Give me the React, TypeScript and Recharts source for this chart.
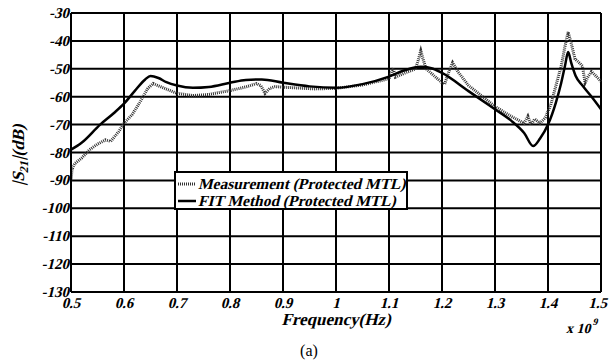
import { LineChart, Line, XAxis, YAxis, CartesianGrid, Customized } from "recharts";

// FIT method (solid)
const fitFreq = [
  0.5, 0.52, 0.555, 0.58, 0.6, 0.62, 0.64, 0.65, 0.665, 0.68, 0.7, 0.73, 0.76, 0.8, 0.83, 0.86, 0.9, 0.95, 1.0,
  1.05, 1.1, 1.13, 1.16, 1.18, 1.2, 1.25, 1.3, 1.33, 1.355, 1.372, 1.385, 1.4, 1.415, 1.425, 1.432, 1.438,
  1.444, 1.452, 1.465, 1.48, 1.5,
];
const fitDb = [
  -79, -76.5, -70, -66, -62.5, -58, -53.8, -52.6, -53.3, -54.8, -56, -56.8, -56.5, -55, -54, -53.8, -55, -56.3, -56.8,
  -55.5, -52.8, -50.5, -49.3, -49.8, -51.5, -58, -64.5, -68.5, -73, -77.7, -75, -70, -62, -55, -49, -44,
  -48, -52.5, -56, -59.5, -64.5,
];

// Measurement (dotted)
const measFreq = [
  0.5, 0.502, 0.507, 0.52, 0.535, 0.55, 0.565, 0.575, 0.59, 0.6, 0.615, 0.63, 0.645, 0.655, 0.67, 0.7, 0.73, 0.76,
  0.8, 0.83, 0.85, 0.858, 0.866, 0.875, 0.885, 0.92, 0.96, 1.0, 1.05, 1.09, 1.1, 1.105, 1.108, 1.112, 1.13, 1.15,
  1.155, 1.16, 1.165, 1.17, 1.185, 1.2, 1.205, 1.213, 1.22, 1.23, 1.25, 1.28, 1.3, 1.33, 1.355, 1.362, 1.368,
  1.375, 1.385, 1.395, 1.405, 1.415, 1.425, 1.432, 1.438, 1.444, 1.451, 1.46, 1.465, 1.47, 1.475, 1.482, 1.49, 1.5,
];
const measDb = [
  -90, -86, -84, -82, -79, -77, -75.5, -76, -72.5, -69.5, -66.5, -62, -57, -55.3, -56.5, -58.8, -59.6, -59.2,
  -57.8, -56.5, -55.3, -56, -58.8, -57, -56.4, -56.8, -57.2, -57, -55.8, -54, -53.5, -51, -49.8, -53, -51.5, -50,
  -47, -43.5, -47, -50, -52.5, -55, -55.5, -51, -47.8, -51, -56, -60.5, -63.5, -67, -69.5, -67, -70,
  -68, -69.5, -67.5, -63, -56, -49, -42, -36.8, -41, -46.5, -48, -49, -55, -53, -51, -52.5, -54.5,
];

const xTicks = [0.5, 0.6, 0.7, 0.8, 0.9, 1, 1.1, 1.2, 1.3, 1.4, 1.5];
const yTicks = [-130, -120, -110, -100, -90, -80, -70, -60, -50, -40, -30];

const fitData = fitFreq.map((x, i) => ({ x, y: fitDb[i] }));
const measData = measFreq.map((x, i) => ({ x, y: measDb[i] }));

const FONT = "Liberation Serif";

// bold Liberation Serif, slanted by hand (bold italic face falls back to sans here)
const BI = ({ x, y, size, anchor = "start", rotate = 0, children }: any) => (
  <text
    transform={`translate(${x} ${y}) rotate(${rotate}) skewX(-14)`}
    textAnchor={anchor}
    fontSize={size}
    fontWeight="bold"
    fontFamily={FONT}
    fill="#000"
  >
    {children}
  </text>
);

const XTick = ({ x, y, payload }: any) =>
  // last label sits at the window edge, keep it inside
  payload.value === 1.5 ? (
    <BI x={x + 6} y={y + 11} size={15} anchor="end">{String(payload.value)}</BI>
  ) : (
    <BI x={x} y={y + 11} size={15} anchor="middle">{String(payload.value)}</BI>
  );
const YTick = ({ x, y, payload }: any) => (
  <BI x={x} y={y + 5} size={15} anchor="end">{String(payload.value)}</BI>
);

const Extras = () => (
  <g>
    <BI x={24} y={155} size={17} anchor="middle" rotate={-90}>
      |S<tspan dy={4} fontSize={12}>21</tspan><tspan dy={-4}>|(dB)</tspan>
    </BI>
    <BI x={336} y={325} size={17} anchor="middle">Frequency(Hz)</BI>
    <BI x={566} y={333} size={14}>
      x 10<tspan dy={-8} fontSize={10}>9</tspan>
    </BI>
    <text x={309} y={356} textAnchor="middle" fontSize={16} fontFamily={FONT}>(a)</text>
    {/* legend */}
    <rect x={175} y={172} width={232} height={37} fill="#fff" stroke="#000" strokeWidth={2} />
    <line x1={178} x2={196} y1={184} y2={184} stroke="#333" strokeWidth={3} strokeDasharray="1 1" />
    <line x1={178} x2={196} y1={201} y2={201} stroke="#000" strokeWidth={2.5} />
    <BI x={198} y={189} size={15.5}>Measurement (Protected MTL)</BI>
    <BI x={198} y={206} size={15.5}>FIT Method (Protected MTL)</BI>
  </g>
);

export default function App() {
  return (
    <div style={{ position: "absolute", left: 0, top: 0, background: "#fff" }}>
      <LineChart width={610} height={361} margin={{ top: 13, right: 9, bottom: 39, left: 11 }}>
        <CartesianGrid stroke="#000" strokeWidth={2} />
        <XAxis
          dataKey="x"
          type="number"
          domain={[0.5, 1.5]}
          ticks={xTicks}
          allowDuplicatedCategory={false}
          tick={<XTick />}
          tickLine={false}
          axisLine={{ stroke: "#000", strokeWidth: 2 }}
          tickSize={0}
          tickMargin={5}
          height={30}
          interval={0}
        />
        <YAxis
          type="number"
          domain={[-130, -30]}
          ticks={yTicks}
          tick={<YTick />}
          tickLine={false}
          axisLine={{ stroke: "#000", strokeWidth: 2 }}
          tickSize={0}
          tickMargin={2}
          width={60}
          interval={0}
        />
        <Line
          data={measData}
          dataKey="y"
          type="linear"
          stroke="#333"
          strokeWidth={3}
          strokeDasharray="1 1"
          dot={false}
          isAnimationActive={false}
        />
        <Line
          data={fitData}
          dataKey="y"
          type="monotone"
          stroke="#000"
          strokeWidth={2.5}
          dot={false}
          isAnimationActive={false}
        />
        <Customized component={Extras} />
      </LineChart>
    </div>
  );
}
